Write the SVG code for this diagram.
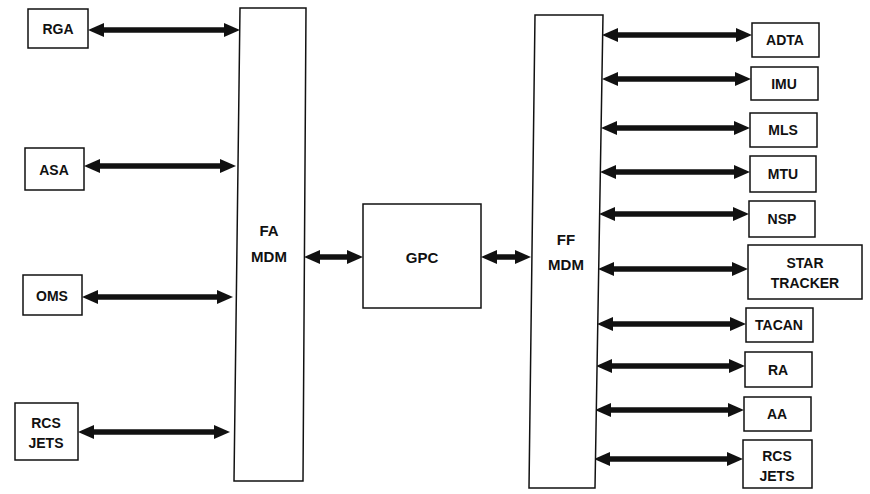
<svg xmlns="http://www.w3.org/2000/svg" width="870" height="494" viewBox="0 0 870 494">
<defs>
<style>
.box{fill:#fff;stroke:#111;stroke-width:1.5}
.t{font-family:"Liberation Sans",Arial,sans-serif;font-weight:bold;font-size:14px;fill:#111;text-anchor:middle}
.tb{font-size:15px}
.c{stroke:#111;stroke-width:5.5;fill:none;marker-start:url(#ah);marker-end:url(#ah)}
</style>
<marker id="ah" markerUnits="userSpaceOnUse" markerWidth="16" markerHeight="14" viewBox="0 0 16 14" refX="7" refY="7" orient="auto-start-reverse">
<path d="M0,0 L16,7 L0,14 z" fill="#111"/>
</marker>
</defs>
<rect width="870" height="494" fill="#fff"/>
<g id="connectors">
<line class="c" x1="97" y1="30" x2="231" y2="30"/>
<line class="c" x1="93" y1="166" x2="227" y2="166"/>
<line class="c" x1="91" y1="297" x2="224" y2="297"/>
<line class="c" x1="87" y1="432" x2="221" y2="432"/>
<line class="c" x1="313" y1="257" x2="354" y2="257"/>
<line class="c" x1="490" y1="257" x2="522" y2="257"/>
<line class="c" x1="611" y1="35" x2="743" y2="35"/>
<line class="c" x1="611" y1="79" x2="742" y2="79"/>
<line class="c" x1="610" y1="128" x2="741" y2="128"/>
<line class="c" x1="609" y1="172" x2="741" y2="172"/>
<line class="c" x1="608" y1="214" x2="740" y2="214"/>
<line class="c" x1="607" y1="269" x2="739" y2="269"/>
<line class="c" x1="606" y1="324" x2="737" y2="324"/>
<line class="c" x1="605" y1="366" x2="736" y2="366"/>
<line class="c" x1="604" y1="410" x2="735" y2="410"/>
<line class="c" x1="603" y1="459" x2="734" y2="459"/>
</g>
<g id="fa-mdm"><path class="box" d="M240,8 L306,8 L303,481 L234,481 Z"/><text class="t tb" x="269" y="236">FA</text><text class="t tb" x="269" y="262">MDM</text></g>
<g id="gpc"><rect class="box" x="363" y="204" width="118" height="104"/><text class="t tb" x="422" y="263">GPC</text></g>
<g id="ff-mdm"><path class="box" d="M535,15 L603,15 L595,488 L529,488 Z"/><text class="t tb" x="566" y="245">FF</text><text class="t tb" x="566" y="270">MDM</text></g>
<g id="rga"><rect class="box" x="28" y="9" width="60" height="39"/><text class="t" x="58" y="34">RGA</text></g>
<g id="asa"><rect class="box" x="25" y="148" width="59" height="42"/><text class="t" x="54" y="175">ASA</text></g>
<g id="oms"><rect class="box" x="23" y="275" width="59" height="40"/><text class="t" x="52" y="301">OMS</text></g>
<g id="rcs-jets-left"><rect class="box" x="15" y="403" width="63" height="57"/><text class="t" x="46" y="428">RCS</text><text class="t" x="46" y="448">JETS</text></g>
<g id="adta"><rect class="box" x="752" y="23" width="67" height="34"/><text class="t" x="785" y="45">ADTA</text></g>
<g id="imu"><rect class="box" x="751" y="67" width="67" height="33"/><text class="t" x="784" y="89">IMU</text></g>
<g id="mls"><rect class="box" x="750" y="113" width="67" height="34"/><text class="t" x="783" y="135">MLS</text></g>
<g id="mtu"><rect class="box" x="750" y="156" width="66" height="36"/><text class="t" x="783" y="179">MTU</text></g>
<g id="nsp"><rect class="box" x="749" y="201" width="66" height="36"/><text class="t" x="782" y="224">NSP</text></g>
<g id="star-tracker"><rect class="box" x="748" y="245" width="114" height="54"/><text class="t" x="805" y="268">STAR</text><text class="t" x="805" y="288">TRACKER</text></g>
<g id="tacan"><rect class="box" x="746" y="308" width="67" height="34"/><text class="t" x="779" y="330">TACAN</text></g>
<g id="ra"><rect class="box" x="745" y="352" width="67" height="35"/><text class="t" x="778" y="375">RA</text></g>
<g id="aa"><rect class="box" x="744" y="397" width="67" height="34"/><text class="t" x="777" y="419">AA</text></g>
<g id="rcs-jets-right"><rect class="box" x="743" y="440" width="69" height="48"/><text class="t" x="777" y="461">RCS</text><text class="t" x="777" y="481">JETS</text></g>
</svg>
